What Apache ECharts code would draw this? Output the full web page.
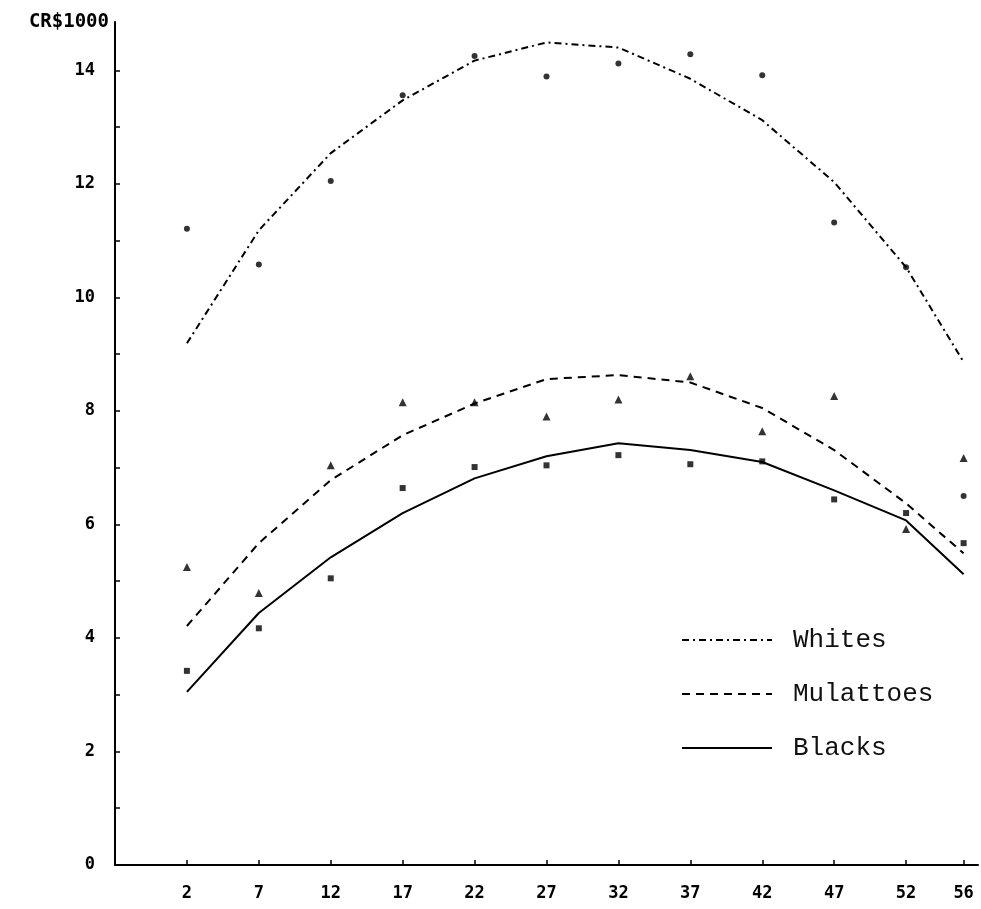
<!DOCTYPE html>
<html lang="en">
<head>
    <meta charset="UTF-8">
    <title>Income by age</title>
    <script src="https://cdn.jsdelivr.net/npm/echarts@6/dist/echarts.min.js"></script>
</head>
<body style="margin:0;background:#fff">
    <div id="container" style="width: 981px; height: 909px;"></div>
    <script>
        // ages (x)
        var ages = [2, 7, 12, 17, 22, 27, 32, 37, 42, 47, 52, 56];
        var yTicks = [0, 2, 4, 6, 8, 10, 12, 14];
        var yMinorTicks = [0, 1, 2, 3, 4, 5, 6, 7, 8, 9, 10, 11, 12, 13, 14];

        // fitted curves
        var whitesFit = [9.19, 11.18, 12.54, 13.47, 14.17, 14.49, 14.40, 13.85, 13.12, 12.03, 10.53, 8.86];
        var mulattoesFit = [4.21, 5.67, 6.78, 7.57, 8.13, 8.56, 8.63, 8.50, 8.05, 7.31, 6.37, 5.49];
        var blacksFit = [3.05, 4.44, 5.42, 6.20, 6.81, 7.20, 7.43, 7.31, 7.10, 6.60, 6.07, 5.12];

        // observed points
        var whitesObs = [11.21, 10.58, 12.05, 13.56, 14.25, 13.89, 14.12, 14.28, 13.91, 11.32, 10.53, 6.50];
        var mulattoesObs = [5.25, 4.79, 7.04, 8.15, 8.15, 7.90, 8.20, 8.61, 7.64, 8.26, 5.92, 7.17];
        var blacksObs = [3.42, 4.17, 5.05, 6.64, 7.01, 7.04, 7.22, 7.06, 7.11, 6.44, 6.20, 5.67];

        function pairs(vals) {
            return ages.map(function (a, i) { return [a, vals[i]]; });
        }

        var font = 'DejaVu Sans Mono';
        var myCharts = echarts.init(document.querySelector('#container'));
        myCharts.setOption({
            backgroundColor: '#ffffff',
            animation: false,
            grid: { left: 115, right: 3, top: 22, bottom: 44 },
            legend: {
                orient: 'vertical',
                left: 676,
                top: 622,
                itemWidth: 90,
                itemHeight: 14,
                itemGap: 28,
                itemStyle: { opacity: 0 },
                textStyle: { fontFamily: 'Liberation Mono', fontSize: 26, color: '#111', padding: [0, 0, 0, 16] },
                data: ['Whites', 'Mulattoes', 'Blacks']
            },
            xAxis: {
                type: 'value',
                min: -3,
                max: 57,
                splitLine: { show: false },
                axisLine: { onZero: false, lineStyle: { color: '#000', width: 2 } },
                axisTick: { inside: true, length: 5, customValues: ages, lineStyle: { color: '#000', width: 1.5 } },
                axisLabel: {
                    customValues: ages,
                    margin: 20,
                    fontFamily: font,
                    fontWeight: 'bold',
                    fontSize: 17,
                    color: '#000'
                }
            },
            yAxis: {
                type: 'value',
                min: 0,
                max: 14.85,
                name: 'CR$1000',
                nameLocation: 'end',
                nameGap: 0,
                nameTextStyle: {
                    align: 'right',
                    verticalAlign: 'middle',
                    padding: [0, 6, 0, 0],
                    fontFamily: font,
                    fontWeight: 'bold',
                    fontSize: 19,
                    color: '#000'
                },
                splitLine: { show: false },
                axisLine: { show: true, onZero: false, lineStyle: { color: '#000', width: 2 } },
                axisTick: { show: true, inside: true, length: 5, customValues: yMinorTicks, lineStyle: { color: '#000', width: 1.5 } },
                axisLabel: {
                    customValues: yTicks,
                    margin: 20,
                    fontFamily: font,
                    fontWeight: 'bold',
                    fontSize: 17,
                    color: '#000'
                }
            },
            series: [{
                name: 'Whites',
                type: 'line',
                symbol: 'none',
                data: pairs(whitesFit),
                itemStyle: { color: '#000' },
                lineStyle: { color: '#000', width: 2, type: [7, 4, 2, 4] }
            }, {
                name: 'Mulattoes',
                type: 'line',
                symbol: 'none',
                data: pairs(mulattoesFit),
                itemStyle: { color: '#000' },
                lineStyle: { color: '#000', width: 2, type: [8, 6] }
            }, {
                name: 'Blacks',
                type: 'line',
                symbol: 'none',
                data: pairs(blacksFit),
                itemStyle: { color: '#000' },
                lineStyle: { color: '#000', width: 2, type: 'solid' }
            }, {
                name: 'Whites obs',
                type: 'scatter',
                symbol: 'circle',
                symbolSize: 6,
                itemStyle: { color: '#000' },
                data: pairs(whitesObs)
            }, {
                name: 'Mulattoes obs',
                type: 'scatter',
                symbol: 'triangle',
                symbolSize: 8,
                itemStyle: { color: '#000' },
                data: pairs(mulattoesObs)
            }, {
                name: 'Blacks obs',
                type: 'scatter',
                symbol: 'rect',
                symbolSize: 6,
                itemStyle: { color: '#000' },
                data: pairs(blacksObs)
            }]
        });
    </script>
</body>
</html>
